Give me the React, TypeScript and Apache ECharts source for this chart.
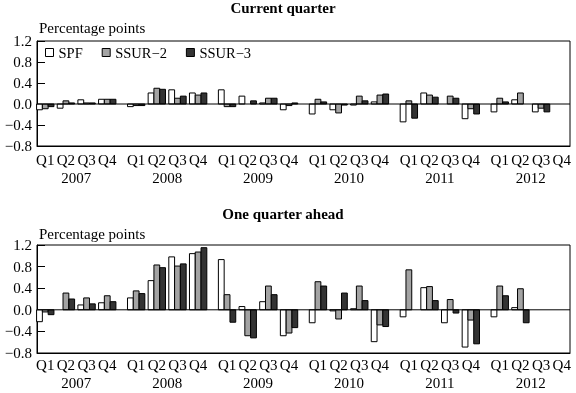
import React, { useEffect, useRef } from "react";
import * as echarts from "echarts";

const YEARS = ["2007", "2008", "2009", "2010", "2011", "2012"];
const QUARTERS = ["Q1", "Q2", "Q3", "Q4"];
const SERIES_NAMES = ["SPF", "SSUR\u22122", "SSUR\u22123"];
const Y_TICKS = { min: -0.8, max: 1.2, interval: 0.4 };

// Current quarter (2007Q1 .. 2012Q4)
const SPF_CUR = [-0.11, -0.08, 0.08, 0.09, -0.05, 0.21, 0.27, 0.21, 0.27, 0.15, 0.02, -0.11, -0.19, -0.11, -0.02, 0.04, -0.34, 0.21, 0, -0.28, -0.15, 0.08, -0.15, null];
const SSUR2_CUR = [-0.09, 0.06, 0.02, 0.09, -0.03, 0.3, 0.11, 0.17, -0.05, 0, 0.11, -0.03, 0.09, -0.17, 0.15, 0.17, 0.06, 0.17, 0.15, -0.09, 0.11, 0.21, -0.08, null];
const SSUR3_CUR = [-0.05, 0.02, 0.02, 0.09, -0.03, 0.28, 0.15, 0.21, -0.05, 0.06, 0.11, 0.02, 0.04, -0.02, 0.06, 0.19, -0.27, 0.13, 0.11, -0.19, 0.04, 0, -0.15, null];

// One quarter ahead
const SPF_AHEAD = [-0.22, 0, 0.09, 0.13, 0.22, 0.54, 0.98, 1.04, 0.93, 0.06, 0.15, -0.48, -0.24, -0.02, 0.02, -0.59, -0.13, 0.41, -0.24, -0.69, -0.13, 0.04, null, null];
const SSUR2_AHEAD = [-0.04, 0.31, 0.22, 0.26, 0.35, 0.83, 0.81, 1.07, 0.28, -0.48, 0.44, -0.43, 0.52, -0.17, 0.44, -0.28, 0.74, 0.43, 0.19, -0.19, 0.44, 0.39, null, null];
const SSUR3_AHEAD = [-0.09, 0.2, 0.11, 0.15, 0.3, 0.78, 0.85, 1.15, -0.23, -0.52, 0.28, -0.33, 0.44, 0.31, 0.17, -0.31, 0, 0.17, -0.06, -0.63, 0.26, -0.24, null, null];

const YEAR_STEP = 4.4;
const BAR_W = 0.28;
const X_MIN = -0.4;
const X_MAX = 5 * YEAR_STEP + 3 + 0.4;
const COLORS = ["#ffffff", "#a3a3a3", "#333333"];
const FONT = "'Liberation Serif', 'Times New Roman', serif";

const xPos = (i: number) => Math.floor(i / 4) * YEAR_STEP + (i % 4);

const qLabel = (v: number) => {
  const yi = Math.round((v - 1.5) / YEAR_STEP);
  const rel = v - yi * YEAR_STEP;
  const r = Math.round(rel);
  if (yi >= 0 && yi < YEARS.length && Math.abs(rel - r) < 0.02 && r >= 0 && r <= 3) return QUARTERS[r];
  return "";
};
const yearLabel = (v: number) => {
  const yi = Math.round((v - 1.5) / YEAR_STEP);
  const rel = v - yi * YEAR_STEP;
  if (yi >= 0 && yi < YEARS.length && Math.abs(rel - 1.5) < 0.02) return YEARS[yi];
  return "";
};

export default function App() {
  const ref = useRef<HTMLDivElement>(null);
  useEffect(() => {
    if (!ref.current) return;
    const chart = echarts.init(ref.current, null, { renderer: "svg" });

    const makeSeries = (vals: (number | null)[], k: number, gridIdx: number) => {
      const data = vals
        .map((v, i) => (v === null || v === 0 ? null : [xPos(i), v]))
        .filter((d) => d !== null);
      const off = (k - 1) * BAR_W;
      return {
        type: "custom",
        name: SERIES_NAMES[k],
        xAxisIndex: gridIdx * 2,
        yAxisIndex: gridIdx,
        itemStyle: { color: COLORS[k], borderColor: "#000", borderWidth: 1 },
        encode: { x: 0, y: 1 },
        data,
        renderItem: (params: any, api: any) => {
          const x = api.value(0) + off;
          const y = api.value(1);
          const p0 = api.coord([x, 0]);
          const p1 = api.coord([x, y]);
          const w = api.size([BAR_W, 0])[0];
          return {
            type: "rect",
            shape: { x: p0[0] - w / 2, y: Math.min(p0[1], p1[1]), width: w, height: Math.abs(p1[1] - p0[1]) },
            style: { fill: COLORS[k], stroke: "#000", lineWidth: 1 },
          };
        },
      };
    };

    const zeroLine = (gridIdx: number) => ({
      type: "line",
      xAxisIndex: gridIdx * 2,
      yAxisIndex: gridIdx,
      silent: true,
      symbol: "none",
      lineStyle: { color: "#000", width: 1 },
      data: [[X_MIN, 0], [X_MAX, 0]],
      z: 3,
    });

    const xAxesFor = (gridIndex: number, margin: number) => [
      {
        type: "value",
        gridIndex,
        min: X_MIN,
        max: X_MAX,
        interval: 0.1,
        axisLine: { show: true, onZero: false, lineStyle: { color: "#000" } },
        axisTick: { show: false },
        splitLine: { show: false },
        axisLabel: { formatter: qLabel, color: "#000", fontSize: 15, fontFamily: FONT, margin },
      },
      {
        type: "value",
        gridIndex,
        position: "bottom",
        offset: 18,
        min: X_MIN,
        max: X_MAX,
        interval: 0.1,
        axisLine: { show: false, onZero: false },
        axisTick: { show: false },
        splitLine: { show: false },
        axisLabel: { formatter: yearLabel, color: "#000", fontSize: 15, fontFamily: FONT, margin },
      },
    ];

    const yAxisFor = (gridIndex: number) => ({
      type: "value",
      gridIndex,
      min: Y_TICKS.min,
      max: Y_TICKS.max,
      interval: Y_TICKS.interval,
      axisLine: { show: true, onZero: false, lineStyle: { color: "#000" } },
      axisTick: { show: true, inside: true, length: 8, lineStyle: { color: "#000" } },
      splitLine: { show: false },
      axisLabel: {
        color: "#000",
        fontSize: 15,
        fontFamily: FONT,
        margin: 5,
        formatter: (v: number) => v.toFixed(1).replace("-", "\u2212"),
      },
    });

    const textEl = (text: string, x: number, y: number, bold: boolean, align: string) => ({
      type: "text",
      x,
      y,
      style: {
        text,
        fill: "#000",
        fontSize: 15,
        fontWeight: bold ? "bold" : "normal",
        fontFamily: FONT,
        textAlign: align,
        textVerticalAlign: "middle",
        align,
        verticalAlign: "middle",
      },
    });

    const option: any = {
      animation: false,
      textStyle: { fontFamily: FONT },
      grid: [
        { left: 37, right: 6, top: 41, height: 105, show: true, borderColor: "#000", borderWidth: 1 },
        { left: 37, right: 6, top: 245, height: 108, show: true, borderColor: "#000", borderWidth: 1 },
      ],
      legend: {
        left: 45,
        top: 45,
        padding: 0,
        icon: "rect",
        itemWidth: 8,
        itemHeight: 8,
        itemGap: 19,
        textStyle: { color: "#000", fontSize: 14.5, fontFamily: FONT },
        data: SERIES_NAMES.map((n, k) => ({
          name: n,
          itemStyle: { color: COLORS[k], borderColor: "#000", borderWidth: 1 },
        })),
      },
      xAxis: [...xAxesFor(0, 6), ...xAxesFor(1, 4)],
      yAxis: [yAxisFor(0), yAxisFor(1)],
      graphic: [
        textEl("Current quarter", 283, 8, true, "center"),
        textEl("One quarter ahead", 283, 214, true, "center"),
        textEl("Percentage points", 39, 28, false, "left"),
        textEl("Percentage points", 39, 234, false, "left"),
      ],
      series: [
        makeSeries(SPF_CUR, 0, 0),
        makeSeries(SSUR2_CUR, 1, 0),
        makeSeries(SSUR3_CUR, 2, 0),
        makeSeries(SPF_AHEAD, 0, 1),
        makeSeries(SSUR2_AHEAD, 1, 1),
        makeSeries(SSUR3_AHEAD, 2, 1),
        zeroLine(0),
        zeroLine(1),
      ],
    };
    chart.setOption(option);
    return () => chart.dispose();
  }, []);
  return <div ref={ref} style={{ position: "fixed", left: 0, top: 0, width: 576, height: 393 }} />;
}
